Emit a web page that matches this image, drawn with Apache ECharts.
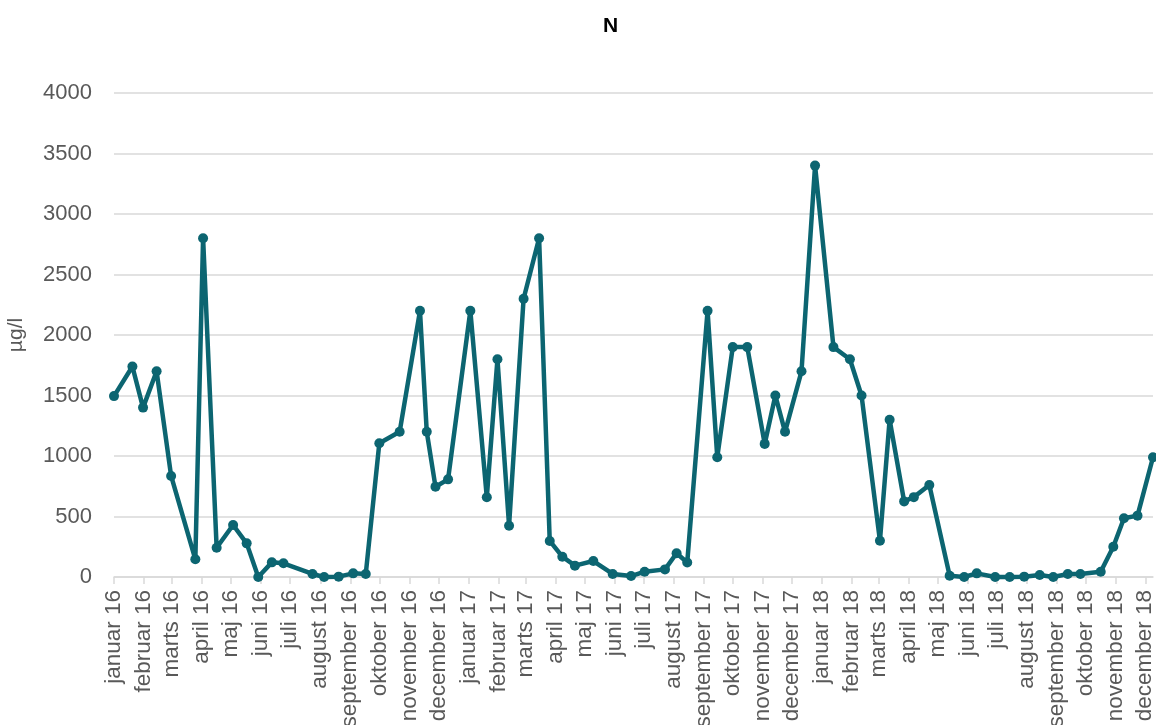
<!DOCTYPE html>
<html>
<head>
<meta charset="utf-8">
<script src="https://cdn.jsdelivr.net/npm/echarts@6/dist/echarts.min.js"></script>
<style>
html,body{margin:0;padding:0;background:#fff;}
#chart{width:1156px;height:725px;}
</style>
</head>
<body>
<div id="chart"></div>
<script>
// Sample dates and N concentrations (µg/l)
const sampleDates = [
  '2016-01-04','2016-01-23','2016-02-03','2016-02-17','2016-03-03','2016-03-28','2016-04-05','2016-04-19',
  '2016-05-06','2016-05-20','2016-06-01','2016-06-15','2016-06-27','2016-07-27','2016-08-08','2016-08-23',
  '2016-09-07','2016-09-20','2016-10-04','2016-10-25','2016-11-15','2016-11-22','2016-12-01','2016-12-14',
  '2017-01-06','2017-01-23','2017-02-03','2017-02-15','2017-03-02','2017-03-18','2017-03-29','2017-04-11',
  '2017-04-24','2017-05-13','2017-06-02','2017-06-21','2017-07-05','2017-07-26','2017-08-07','2017-08-18',
  '2017-09-08','2017-09-18','2017-10-04','2017-10-19','2017-11-06','2017-11-17','2017-11-27','2017-12-14',
  '2017-12-28','2018-01-16','2018-02-02','2018-02-14','2018-03-05','2018-03-15','2018-03-30','2018-04-09',
  '2018-04-25','2018-05-16','2018-05-31','2018-06-13','2018-07-02','2018-07-17','2018-08-01','2018-08-17',
  '2018-08-31','2018-09-15','2018-09-28','2018-10-19','2018-11-01','2018-11-12','2018-11-26','2018-12-12'
];
const nValues = [
  1495, 1740, 1400, 1700, 835, 146, 2800, 242,
  430, 278, 0, 121, 113, 25, 0, 3,
  30, 25, 1105, 1200, 2200, 1200, 746, 807,
  2200, 659, 1800, 424, 2300, 2800, 298, 168,
  94, 132, 25, 8, 44, 63, 196, 120,
  2200, 990, 1900, 1900, 1100, 1500, 1200, 1700,
  3400, 1900, 1800, 1500, 300, 1300, 625, 660,
  760, 11, 0, 30, 0, 0, 3, 16,
  0, 25, 25, 44, 250, 485, 507, 990
];
const monthNames = ['januar','februar','marts','april','maj','juni','juli','august','september','oktober','november','december'];
const tickYears = [2016, 2017, 2018];
const yTicks = [0, 500, 1000, 1500, 2000, 2500, 3000, 3500, 4000];

function toUTC(s) {
  const p = s.split('-').map(Number);
  return Date.UTC(p[0], p[1] - 1, p[2]);
}
const seriesData = sampleDates.map((d, i) => [toUTC(d), nValues[i]]);
const tickDay = 4;
const monthTicks = [];
tickYears.forEach(y => { for (let m = 0; m < 12; m++) monthTicks.push(Date.UTC(y, m, tickDay)); });

const color = '#0c6571';
const chart = echarts.init(document.getElementById('chart'));
chart.setOption({
  animation: false,
  backgroundColor: '#ffffff',
  title: {
    text: 'N',
    left: 598,
    top: 11,
    textStyle: { fontFamily: 'Liberation Sans', fontWeight: 'bold', fontSize: 21, color: '#000000' }
  },
  grid: { left: 114, right: 3, top: 93, bottom: 148, containLabel: false, outerBoundsMode: 'none' },
  xAxis: {
    type: 'value',
    min: toUTC(sampleDates[0]),
    max: toUTC(sampleDates[sampleDates.length - 1]),
    axisLine: { show: true, lineStyle: { color: '#d9d9d9', width: 1.5 } },
    axisTick: { show: true, length: 7, lineStyle: { color: '#d9d9d9', width: 1.5 }, customValues: monthTicks },
    splitLine: { show: false },
    axisLabel: {
      customValues: monthTicks,
      rotate: 90,
      margin: 13,
      fontFamily: 'Liberation Sans',
      fontSize: 22.5,
      color: '#595959',
      hideOverlap: false,
      formatter: function (v) {
        const d = new Date(v);
        return monthNames[d.getUTCMonth()] + ' ' + String(d.getUTCFullYear()).slice(2);
      }
    }
  },
  yAxis: {
    type: 'value',
    min: yTicks[0],
    max: yTicks[yTicks.length - 1],
    interval: 500,
    name: 'µg/l',
    nameLocation: 'middle',
    nameRotate: 90,
    nameGap: 87,
    nameTextStyle: { fontFamily: 'Liberation Sans', fontSize: 21, color: '#595959' },
    axisLine: { show: false },
    axisTick: { show: false },
    axisLabel: {
      margin: 22,
      fontFamily: 'Liberation Sans',
      fontSize: 22,
      color: '#595959',
      formatter: function (v) { return String(v); }
    },
    splitLine: { show: true, lineStyle: { color: '#d9d9d9', width: 1.5 } }
  },
  series: [{
    type: 'line',
    data: seriesData,
    clip: false,
    symbol: 'circle',
    symbolSize: 10,
    lineStyle: { color: color, width: 4.5 },
    itemStyle: { color: color, borderWidth: 0 }
  }]
});
</script>
</body>
</html>
